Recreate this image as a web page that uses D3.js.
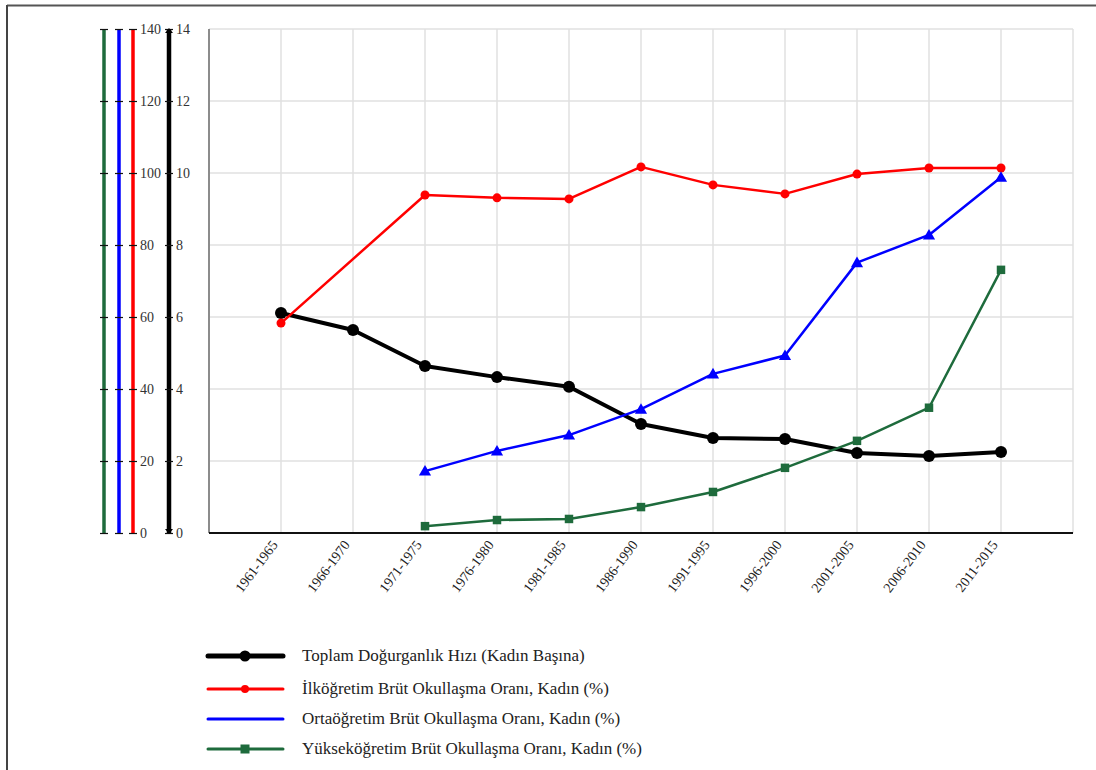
<!DOCTYPE html>
<html>
<head>
<meta charset="utf-8">
<script src="https://cdn.jsdelivr.net/npm/d3@7"></script>
<style>
  html, body { margin: 0; padding: 0; background: #fff; }
  svg { display: block; }
  text { font-family: "Liberation Serif", "Times New Roman", serif; }
</style>
</head>
<body>
<svg id="chart" width="1096" height="770"></svg>
<script>
// Five-year periods
const periods = ["1961-1965", "1966-1970", "1971-1975", "1976-1980", "1981-1985",
  "1986-1990", "1991-1995", "1996-2000", "2001-2005", "2006-2010", "2011-2015"];

// Total fertility rate (births per woman)
const fertility = [6.11, 5.64, 4.64, 4.33, 4.06, 3.03, 2.64, 2.61, 2.22, 2.14, 2.25];
// Gross enrolment ratios, female (%)
const primary   = [58.3, null, 93.9, 93.1, 92.8, 101.7, 96.7, 94.2, 99.7, 101.4, 101.4];
const secondary = [null, null, 17.2, 22.8, 27.2, 34.4, 44.2, 49.3, 75.1, 82.8, 98.8];
const tertiary  = [null, null, 1.9, 3.6, 3.9, 7.2, 11.4, 18.1, 25.6, 34.8, 73.1];

const pctTicks = [0, 20, 40, 60, 80, 100, 120, 140];
const tfrTicks = [0, 2, 4, 6, 8, 10, 12, 14];

const legendLabels = [
  "Toplam Doğurganlık Hızı (Kadın Başına)",
  "İlköğretim Brüt Okullaşma Oranı, Kadın (%)",
  "Ortaöğretim Brüt Okullaşma Oranı, Kadın (%)",
  "Yükseköğretim Brüt Okullaşma Oranı, Kadın (%)"
];

const SERIF = "'Liberation Serif', 'Times New Roman', serif";
const svg = d3.select("#chart");

// page edge lines
svg.append("line").attr("x1", 7).attr("x2", 1096).attr("y1", 5.5).attr("y2", 5.5)
  .attr("stroke", "#555").attr("stroke-width", 2);
svg.append("line").attr("x1", 7).attr("x2", 7).attr("y1", 5).attr("y2", 770)
  .attr("stroke", "#444").attr("stroke-width", 2);

const plot = { left: 209, right: 1073, top: 29, bottom: 533 };
const step = (plot.right - plot.left) / (periods.length + 1);

const x = d3.scalePoint().domain(periods)
  .range([plot.left + step, plot.right - step]);
const yPct = d3.scaleLinear().domain([0, 140]).range([plot.bottom, plot.top]);
const yTfr = d3.scaleLinear().domain([0, 14]).range([plot.bottom, plot.top]);

// grid
const grid = svg.append("g");
grid.selectAll(".hg").data(pctTicks.slice(1)).join("line")
  .attr("x1", plot.left).attr("x2", plot.right)
  .attr("y1", d => yPct(d)).attr("y2", d => yPct(d))
  .attr("stroke", "#e0e0e0").attr("stroke-width", 1.5);
grid.selectAll(".vg").data(periods).join("line")
  .attr("x1", d => x(d)).attr("x2", d => x(d))
  .attr("y1", plot.top).attr("y2", plot.bottom)
  .attr("stroke", "#e0e0e0").attr("stroke-width", 1.5);
grid.append("line").attr("x1", plot.right).attr("x2", plot.right)
  .attr("y1", plot.top).attr("y2", plot.bottom)
  .attr("stroke", "#e0e0e0").attr("stroke-width", 1.5);
grid.append("line").attr("x1", plot.left).attr("x2", plot.left)
  .attr("y1", plot.top).attr("y2", plot.bottom)
  .attr("stroke", "#8c8c8c").attr("stroke-width", 2);

// x axis
const xAxis = svg.append("g").attr("transform", `translate(0,${plot.bottom})`)
  .call(d3.axisBottom(x).tickSize(0).tickPadding(0));
xAxis.attr("font-family", SERIF);
xAxis.select(".domain").attr("d", `M${plot.left},0H${plot.right}`)
  .attr("stroke", "#111").attr("stroke-width", 2);
xAxis.selectAll("text")
  .attr("font-size", 14)
  .attr("fill", "#222")
  .attr("text-anchor", "end").attr("dy", 0)
  .attr("transform", "translate(-3,12) rotate(-53)");

// vertical value axes
function valueAxis(xPos, scale, ticks, color, width, labels) {
  const g = svg.append("g").attr("transform", `translate(${xPos},0)`);
  const axis = d3.axisRight(scale).tickValues(ticks).tickSize(0)
    .tickFormat(labels ? d3.format("d") : () => "");
  g.call(axis);
  g.attr("font-family", SERIF);
  g.select(".domain").attr("d", `M0,${plot.bottom}V${plot.top}`)
    .attr("stroke", color).attr("stroke-width", width);
  g.selectAll(".tick").append("line")
    .attr("x1", -4).attr("x2", 4).attr("stroke", "#111").attr("stroke-width", 1.2);
  g.selectAll(".tick text")
    .attr("x", labels ? 7 : 0)
    .attr("font-size", 14)
    .attr("fill", "#333");
  return g;
}
valueAxis(104, yPct, pctTicks, "#1e6b3c", 3.5, false);
valueAxis(119, yPct, pctTicks, "#0000ff", 3.5, false);
valueAxis(133, yPct, pctTicks, "#ff0000", 3.5, true);
const tfrAxis = valueAxis(169, yTfr, tfrTicks, "#000", 4.5, true);
// small arrowheads at ends of the fertility axis
tfrAxis.append("path").attr("d", `M-4,${plot.top + 4}L0,${plot.top - 1}L4,${plot.top + 4}Z`).attr("fill", "#000");
tfrAxis.append("path").attr("d", `M-4,${plot.bottom - 4}L0,${plot.bottom + 1}L4,${plot.bottom - 4}Z`).attr("fill", "#000");

// series
const series = [
  { values: fertility, y: yTfr, color: "#000000", width: 4, marker: "circle", size: 6 },
  { values: primary, y: yPct, color: "#ff0000", width: 2.5, marker: "circle", size: 4.5 },
  { values: secondary, y: yPct, color: "#0000ff", width: 2.5, marker: "triangle", size: 64 },
  { values: tertiary, y: yPct, color: "#1e6b3c", width: 2.5, marker: "square", size: 72 }
];

series.forEach(s => {
  const pts = periods.map((p, i) => ({ p, v: s.values[i] })).filter(d => d.v != null);
  const line = d3.line().x(d => x(d.p)).y(d => s.y(d.v));
  svg.append("path").datum(pts)
    .attr("d", line).attr("fill", "none")
    .attr("stroke", s.color).attr("stroke-width", s.width)
    .attr("stroke-linejoin", "round");
  const g = svg.append("g");
  if (s.marker === "circle") {
    g.selectAll("circle").data(pts).join("circle")
      .attr("cx", d => x(d.p)).attr("cy", d => s.y(d.v)).attr("r", s.size)
      .attr("fill", s.color);
  } else {
    const sym = d3.symbol()
      .type(s.marker === "triangle" ? d3.symbolTriangle : d3.symbolSquare)
      .size(s.size);
    g.selectAll("path").data(pts).join("path")
      .attr("d", sym)
      .attr("transform", d => `translate(${x(d.p)},${s.y(d.v) + (s.marker === "triangle" ? 1 : 0)})`)
      .attr("fill", s.color);
  }
});

// legend
const legendY = [656, 689, 719, 749];
const leg = svg.append("g").attr("font-family", SERIF);
series.forEach((s, i) => {
  const y = legendY[i];
  leg.append("line").attr("x1", 208).attr("x2", 283).attr("y1", y).attr("y2", y)
    .attr("stroke", s.color).attr("stroke-width", i === 0 ? 5 : 3)
    .attr("stroke-linecap", "round");
  if (s.marker === "circle") {
    leg.append("circle").attr("cx", 245).attr("cy", y).attr("r", i === 0 ? 5.5 : 4)
      .attr("fill", s.color);
  } else if (s.marker === "square") {
    leg.append("rect").attr("x", 240.5).attr("y", y - 4.5).attr("width", 9).attr("height", 9)
      .attr("fill", s.color);
  }
  leg.append("text").attr("x", 302).attr("y", y + 5)
    .attr("font-size", 17).attr("fill", "#222")
    .text(legendLabels[i]);
});
</script>
</body>
</html>
